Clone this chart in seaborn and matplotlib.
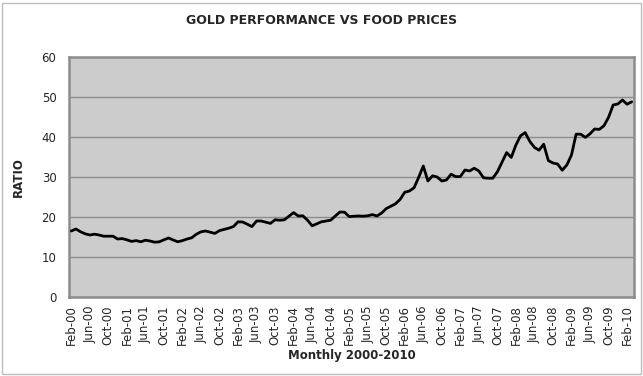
import matplotlib
matplotlib.use("Agg")
import matplotlib.pyplot as plt
import seaborn as sns
import pandas as pd
import numpy as np
from matplotlib.patches import Rectangle

# ---- data ----
start_month = "2000-02"
n_months = 122
ratio = [
    16.5, 17.0, 16.3, 15.8, 15.5, 15.7, 15.5, 15.2, 15.2, 15.2,
    14.5, 14.6, 14.3, 13.9, 14.1, 13.8, 14.2, 14.0, 13.7, 13.8,
    14.3, 14.75, 14.25, 13.8, 14.1, 14.5, 14.8, 15.7, 16.3, 16.5,
    16.2, 15.9, 16.6, 16.9, 17.2, 17.6, 18.8, 18.75, 18.2, 17.6,
    19.0, 19.0, 18.7, 18.4, 19.3, 19.2, 19.3, 20.2, 21.1, 20.25,
    20.3, 19.2, 17.8, 18.3, 18.8, 19.0, 19.2, 20.25, 21.25, 21.2,
    20.1, 20.2, 20.25, 20.2, 20.3, 20.6, 20.25, 21.0, 22.1, 22.7,
    23.3, 24.4, 26.2, 26.5, 27.3, 29.9, 32.75, 29.0, 30.3, 30.0,
    29.0, 29.25, 30.7, 30.1, 30.1, 31.75, 31.5, 32.2, 31.5, 29.8,
    29.7, 29.7, 31.3, 33.7, 36.1, 34.9, 38.0, 40.3, 41.1, 38.9,
    37.4, 36.7, 38.2, 34.1, 33.5, 33.25, 31.7, 33.0, 35.5, 40.7,
    40.7, 39.9, 40.8, 42.0, 41.9, 42.8, 44.9, 48.0, 48.25, 49.25,
    48.2, 48.8,
]
months = pd.period_range(start_month, periods=n_months, freq="M")
month_labels = [m.strftime("%b-%y") for m in months]
y_ticks = [0, 10, 20, 30, 40, 50, 60]

title = "GOLD PERFORMANCE VS FOOD PRICES"
x_title = "Monthly 2000-2010"
y_title = "RATIO"

df = pd.DataFrame({"idx": np.arange(len(ratio)), "ratio": ratio, "month": month_labels})

# ---- plotting ----
sns.set_style("white")
plt.rcParams["font.family"] = ["DejaVu Sans"]

fig = plt.figure(figsize=(6.43, 3.76), dpi=100)
fig.patch.set_facecolor("white")
ax = fig.add_axes([69 / 643, 1 - 297 / 376, (634 - 69) / 643, (297 - 57) / 376])
ax.set_facecolor("#cccccc")

for yv in y_ticks[1:-1]:
    ax.axhline(yv, color="#8c8c8c", lw=1.0, zorder=1)

sns.lineplot(data=df, x="idx", y="ratio", ax=ax, color="black", lw=2.0, zorder=3)

ax.set_xlim(-0.5, len(ratio) - 0.5)
ax.set_ylim(0, 60)

ax.set_yticks(y_ticks)
ax.set_yticklabels([str(v) for v in y_ticks], fontsize=8.5)
ax.tick_params(axis="y", length=4, width=1, color="#8c8c8c", pad=5)

label_idx = list(range(0, len(ratio), 4))
ax.set_xticks(label_idx)
ax.set_xticklabels([month_labels[i] for i in label_idx], rotation=90, fontsize=8.5)
ax.set_xticks([i - 0.5 for i in label_idx], minor=True)
ax.tick_params(axis="x", which="major", length=0, pad=6)
ax.tick_params(axis="x", which="minor", length=4, width=1, color="#8c8c8c")

for s in ax.spines.values():
    s.set_color("#8c8c8c")
    s.set_linewidth(1.8)

ax.set_xlabel(x_title, fontsize=8.5, fontweight="bold", labelpad=3)
ax.set_ylabel(y_title, fontsize=8.5, fontweight="bold", labelpad=12)
fig.text(0.5, 1 - 20 / 376, title, ha="center", va="center", fontsize=9, fontweight="bold")

# outer chart border
fig.patches.append(Rectangle((2 / 643, 2 / 376), 639 / 643, 371 / 376, transform=fig.transFigure,
                             fill=False, edgecolor="#bdbdbd", lw=1.0))

fig.savefig("out.png", dpi=100)
